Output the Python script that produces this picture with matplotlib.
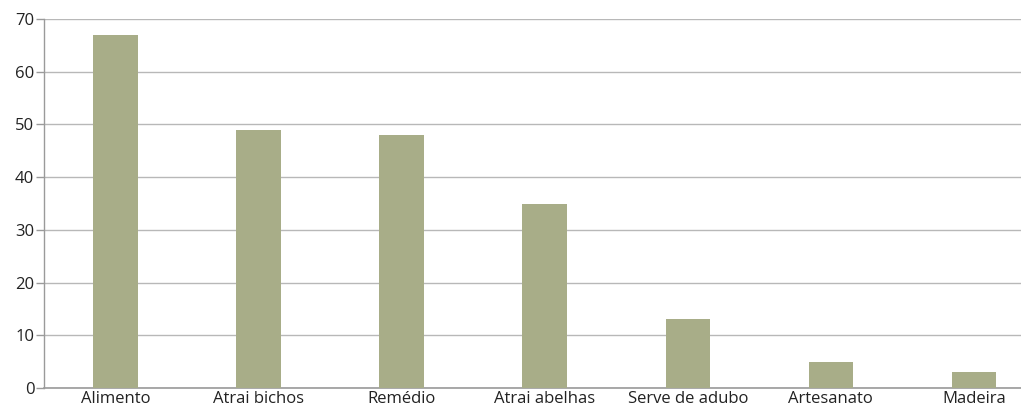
import matplotlib.pyplot as plt

plt.rcParams.update({
    "font.family": ["Open Sans", "DejaVu Sans"],
    "font.size": 12,
})

categories = ["Alimento", "Atrai bichos", "Remédio", "Atrai abelhas",
              "Serve de adubo", "Artesanato", "Madeira"]
values = [67, 49, 48, 35, 13, 5, 3]
yticks = [0, 10, 20, 30, 40, 50, 60, 70]

BAR = "#a8ad88"
GRID = "#b8b8b8"
AXIS = "#9a9a9a"
TEXT = "#222222"

W, H = 1021, 409
fig = plt.figure(figsize=(W / 100, H / 100), dpi=100)
ax = fig.add_axes([44 / W, 21 / H, (W - 44) / W, 369 / H])

x = range(len(categories))
ax.bar(x, values, width=0.31, color=BAR, zorder=3)

ax.set_xlim(-0.5, 6.33)
ax.set_ylim(0, 70)
ax.set_yticks(yticks)
ax.set_xticks(list(x))
ax.set_xticklabels(categories)

ax.yaxis.grid(True, color=GRID, lw=1, zorder=0)
for s in ["top", "right"]:
    ax.spines[s].set_visible(False)
ax.spines["left"].set_color(AXIS)
ax.spines["bottom"].set_color(AXIS)
ax.spines["left"].set_linewidth(1)
ax.spines["bottom"].set_linewidth(1.2)

ax.tick_params(axis="x", length=0, pad=2, labelcolor=TEXT)
ax.tick_params(axis="y", length=6, width=1, color=AXIS, pad=1, labelcolor=TEXT)

fig.savefig("out.png", dpi=100)
